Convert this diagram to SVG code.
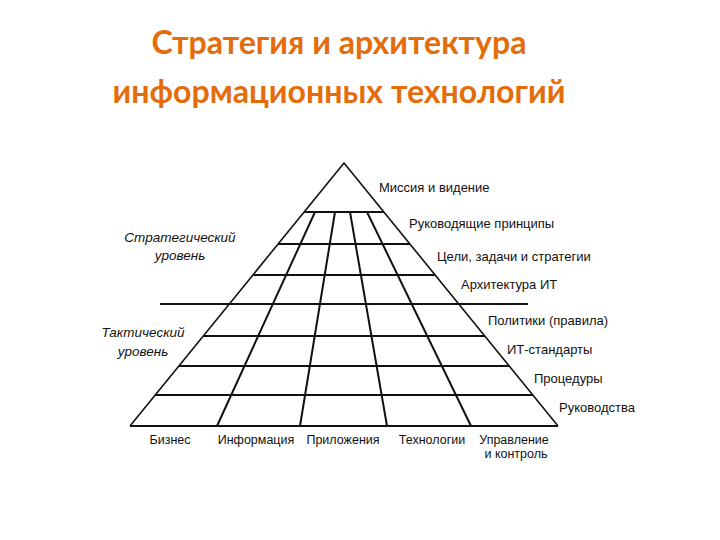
<svg xmlns="http://www.w3.org/2000/svg" width="720" height="540" viewBox="0 0 720 540">
<style>
.title{font-family:Lato,"Open Sans","Liberation Sans",sans-serif;font-weight:bold;font-size:32px;fill:#E46C0A;text-anchor:middle}
.lbl{font-family:"Liberation Sans","DejaVu Sans",sans-serif;font-size:13px;fill:#111}
.lvl{font-family:"Liberation Sans","DejaVu Sans",sans-serif;font-style:italic;font-size:13.5px;fill:#111;text-anchor:middle}
.bot{font-family:"Liberation Sans","DejaVu Sans",sans-serif;font-size:12.5px;fill:#111;text-anchor:middle}
.ln{stroke:#111;stroke-width:2;fill:none}
.edge{stroke:#111;stroke-width:1.6;fill:none}
</style>
<rect width="720" height="540" fill="#fff"/>
<g id="title">
<text class="title" x="339" y="54" textLength="375" lengthAdjust="spacingAndGlyphs">Стратегия и архитектура</text>
<text class="title" x="339" y="103" textLength="453" lengthAdjust="spacingAndGlyphs">информационных технологий</text>
</g>
<g id="connectors">
<path class="edge" d="M130,426 L344,163 L558,426"/>
<line class="ln" x1="304" y1="212" x2="384" y2="212"/>
<line class="ln" x1="278" y1="244" x2="410" y2="244"/>
<line class="ln" x1="253" y1="275" x2="435" y2="275"/>
<line class="ln" x1="160" y1="304" x2="528" y2="304" stroke-width="3"/>
<line class="ln" x1="203" y1="336" x2="485" y2="336"/>
<line class="ln" x1="179" y1="366" x2="509" y2="366"/>
<line class="ln" x1="155" y1="395" x2="533" y2="395" stroke="#777"/>
<line class="ln" x1="130" y1="426" x2="558" y2="426"/>
<line class="ln" x1="315" y1="212" x2="217" y2="426"/>
<line class="ln" x1="335" y1="212" x2="300" y2="426"/>
<line class="ln" x1="350" y1="212" x2="387" y2="426"/>
<line class="ln" x1="367" y1="212" x2="471" y2="426"/>
</g>
<g id="levels-right">
<text class="lbl" x="379" y="192">Миссия и видение</text>
<text class="lbl" x="409" y="228">Руководящие принципы</text>
<text class="lbl" x="437" y="261">Цели, задачи и стратегии</text>
<text class="lbl" x="461" y="289">Архитектура ИТ</text>
<text class="lbl" x="488" y="325">Политики (правила)</text>
<text class="lbl" x="507" y="354">ИТ-стандарты</text>
<text class="lbl" x="534" y="383">Процедуры</text>
<text class="lbl" x="559" y="412">Руководства</text>
</g>
<g id="levels-left">
<text class="lvl" x="180" y="242">Стратегический</text>
<text class="lvl" x="180" y="260">уровень</text>
<text class="lvl" x="143" y="337">Тактический</text>
<text class="lvl" x="143" y="356">уровень</text>
</g>
<g id="columns">
<text class="bot" x="170" y="444">Бизнес</text>
<text class="bot" x="256" y="444">Информация</text>
<text class="bot" x="343" y="444">Приложения</text>
<text class="bot" x="432" y="444">Технологии</text>
<text class="bot" x="514" y="444">Управление</text>
<text class="bot" x="516" y="458">и контроль</text>
</g>
</svg>
